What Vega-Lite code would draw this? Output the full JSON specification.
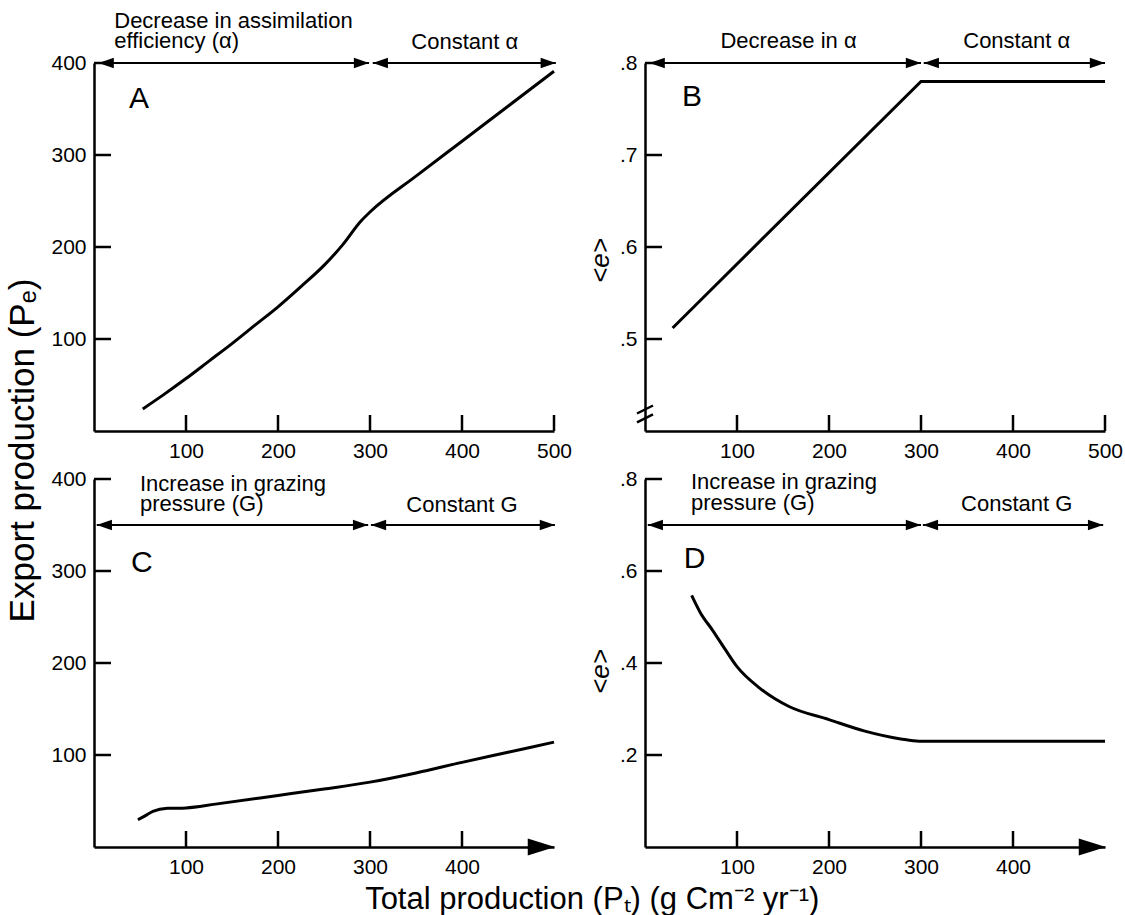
{
  "$schema": "https://vega.github.io/schema/vega-lite/v6.json",
  "padding": {"left": 5, "top": 10, "right": 0, "bottom": 0},
  "background": "white",
  "config": {
    "font": "Liberation Sans",
    "view": {"stroke": null},
    "axis": {"grid": false, "ticks": false, "domainColor": "black", "domainWidth": 2.5, "labelFontSize": 21, "labelColor": "black", "labelFont": "Liberation Sans", "labelFlush": false, "labelOverlap": false, "labelBound": false},
    "axisX": {"labelPadding": 9},
    "axisY": {"labelPadding": 8},
    "title": {"font": "Liberation Sans", "fontSize": 30, "fontWeight": "normal", "color": "black"}
  },
  "title": {"text": "Total production (Pₜ) (g Cm⁻² yr⁻¹)", "orient": "bottom", "anchor": "middle", "offset": 8, "fontSize": 31, "dx": 28},
  "vconcat": [
    {
      "title": {"text": "Export production (Pₑ)", "orient": "left", "anchor": "middle", "offset": 10, "fontSize": 35, "dx": -7},
      "columns": 2,
      "spacing": {"row": 48, "column": 91},
      "bounds": "flush",
      "concat": [
        {
          "width": 460, "height": 368,
          "layer": [
            {
              "data": {"values": [{"x":53,"y":24},{"x":75,"y":39},{"x":100,"y":57},{"x":125,"y":76},{"x":150,"y":95},{"x":175,"y":115},{"x":200,"y":135},{"x":225,"y":157},{"x":250,"y":180},{"x":270,"y":202},{"x":290,"y":228},{"x":300,"y":238},{"x":350,"y":277},{"x":400,"y":315},{"x":450,"y":353},{"x":500,"y":391}]},
              "mark": {"type": "line", "color": "black", "strokeWidth": 3, "interpolate": "monotone"},
              "encoding": {
                "x": {"field": "x", "type": "quantitative", "scale": {"domain": [0, 500], "nice": false, "zero": false}, "axis": {"values": [100, 200, 300, 400, 500], "title": null}},
                "y": {"field": "y", "type": "quantitative", "scale": {"domain": [0, 400], "nice": false}, "axis": {"values": [100, 200, 300, 400], "title": null}}
              }
            },
            {
              "data": {"values": [{"x":100,"x2":100,"y":0,"y2":17.4},{"x":200,"x2":200,"y":0,"y2":17.4},{"x":300,"x2":300,"y":0,"y2":17.4},{"x":400,"x2":400,"y":0,"y2":17.4},{"x":500,"x2":500,"y":0,"y2":17.4},{"x":0,"x2":18.5,"y":100,"y2":100},{"x":0,"x2":18.5,"y":200,"y2":200},{"x":0,"x2":18.5,"y":300,"y2":300},{"x":0,"x2":18.5,"y":400,"y2":400}]},
              "mark": {"type": "rule", "color": "black", "strokeWidth": 2.5},
              "encoding": {"x": {"field": "x", "type": "quantitative"}, "x2": {"field": "x2"}, "y": {"field": "y", "type": "quantitative"}, "y2": {"field": "y2"}}
            },
            {
              "data": {"values": [{"x":5,"x2":299,"y":400},{"x":303,"x2":502,"y":400}]},
              "mark": {"type": "rule", "color": "black", "strokeWidth": 2},
              "encoding": {"x": {"field": "x", "type": "quantitative"}, "x2": {"field": "x2"}, "y": {"field": "y", "type": "quantitative"}}
            },
            {
              "data": {"values": [{"x":5,"y":400,"dir":"L"},{"x":299,"y":400,"dir":"R"},{"x":303,"y":400,"dir":"L"},{"x":502,"y":400,"dir":"R"}]},
              "mark": {"type": "point", "filled": true, "color": "black", "opacity": 1, "size": 256},
              "encoding": {"x": {"field": "x", "type": "quantitative"}, "y": {"field": "y", "type": "quantitative"},
                "shape": {"field": "dir", "type": "nominal", "scale": {"domain": ["L","R","E"], "range": ["M0,0L1.9,-0.65L1.9,0.65Z","M0,0L-1.9,-0.65L-1.9,0.65Z","M0,0L-3.4,-1.06L-3.4,1.06Z"]}, "legend": null}}
            },
            {
              "data": {"values": [{"x":22,"y":438,"label":"Decrease in assimilation"},{"x":22,"y":416.5,"label":"efficiency (α)"}]},
              "mark": {"type": "text", "align": "left", "baseline": "alphabetic", "fontSize": 22, "color": "black"},
              "encoding": {"x": {"field": "x", "type": "quantitative"}, "y": {"field": "y", "type": "quantitative"}, "text": {"field": "label"}}
            },
            {
              "data": {"values": [{"x":403,"y":415,"label":"Constant α"}]},
              "mark": {"type": "text", "align": "center", "baseline": "alphabetic", "fontSize": 22, "color": "black"},
              "encoding": {"x": {"field": "x", "type": "quantitative"}, "y": {"field": "y", "type": "quantitative"}, "text": {"field": "label"}}
            },
            {
              "data": {"values": [{"x":49,"y":351,"label":"A"}]},
              "mark": {"type": "text", "align": "center", "baseline": "alphabetic", "fontSize": 30, "color": "black"},
              "encoding": {"x": {"field": "x", "type": "quantitative"}, "y": {"field": "y", "type": "quantitative"}, "text": {"field": "label"}}
            }
          ]
        },
        {
          "width": 460, "height": 368,
          "layer": [
            {
              "data": {"values": [{"x":30,"y":0.512},{"x":300,"y":0.78},{"x":500,"y":0.78}]},
              "mark": {"type": "line", "color": "black", "strokeWidth": 3},
              "encoding": {
                "x": {"field": "x", "type": "quantitative", "scale": {"domain": [0, 500], "nice": false, "zero": false}, "axis": {"values": [100, 200, 300, 400, 500], "title": null}},
                "y": {"field": "y", "type": "quantitative", "scale": {"domain": [0.4, 0.8], "nice": false, "zero": false}, "axis": {"values": [0.5, 0.6, 0.7, 0.8], "labelExpr": "slice(format(datum.value,'.1f'),1)", "title": "<e>", "titleFontSize": 26, "titleFontStyle": "italic", "titleFontWeight": "normal", "titleColor": "black", "titlePadding": 6, "titleY": 197}}
              }
            },
            {
              "data": {"values": [{"x":100,"x2":100,"y":0.4,"y2":0.4174},{"x":200,"x2":200,"y":0.4,"y2":0.4174},{"x":300,"x2":300,"y":0.4,"y2":0.4174},{"x":400,"x2":400,"y":0.4,"y2":0.4174},{"x":500,"x2":500,"y":0.4,"y2":0.4174},{"x":0,"x2":18.5,"y":0.5,"y2":0.5},{"x":0,"x2":18.5,"y":0.6,"y2":0.6},{"x":0,"x2":18.5,"y":0.7,"y2":0.7},{"x":0,"x2":18.5,"y":0.8,"y2":0.8}]},
              "mark": {"type": "rule", "color": "black", "strokeWidth": 2.5},
              "encoding": {"x": {"field": "x", "type": "quantitative"}, "x2": {"field": "x2"}, "y": {"field": "y", "type": "quantitative"}, "y2": {"field": "y2"}}
            },
            {
              "data": {"values": [{"x":5,"x2":300,"y":0.8},{"x":303,"x2":500,"y":0.8}]},
              "mark": {"type": "rule", "color": "black", "strokeWidth": 2},
              "encoding": {"x": {"field": "x", "type": "quantitative"}, "x2": {"field": "x2"}, "y": {"field": "y", "type": "quantitative"}}
            },
            {
              "data": {"values": [{"x":5,"y":0.8,"dir":"L"},{"x":300,"y":0.8,"dir":"R"},{"x":303,"y":0.8,"dir":"L"},{"x":500,"y":0.8,"dir":"R"}]},
              "mark": {"type": "point", "filled": true, "color": "black", "opacity": 1, "size": 256},
              "encoding": {"x": {"field": "x", "type": "quantitative"}, "y": {"field": "y", "type": "quantitative"},
                "shape": {"field": "dir", "type": "nominal", "scale": {"domain": ["L","R","E"], "range": ["M0,0L1.9,-0.65L1.9,0.65Z","M0,0L-1.9,-0.65L-1.9,0.65Z","M0,0L-3.4,-1.06L-3.4,1.06Z"]}, "legend": null}}
            },
            {
              "data": {"values": [{"x":0,"y":0.4185}]},
              "mark": {"type": "point", "filled": false, "color": "black", "opacity": 1, "strokeWidth": 2.5, "size": 256, "shape": "M-1,-0.06L1,-1.06M-1,1.06L1,0.06"},
              "encoding": {"x": {"field": "x", "type": "quantitative"}, "y": {"field": "y", "type": "quantitative"}}
            },
            {
              "data": {"values": [{"x":156,"y":0.8166,"label":"Decrease in α"},{"x":404,"y":0.8166,"label":"Constant α"}]},
              "mark": {"type": "text", "align": "center", "baseline": "alphabetic", "fontSize": 22, "color": "black"},
              "encoding": {"x": {"field": "x", "type": "quantitative"}, "y": {"field": "y", "type": "quantitative"}, "text": {"field": "label"}}
            },
            {
              "data": {"values": [{"x":51,"y":0.753,"label":"B"}]},
              "mark": {"type": "text", "align": "center", "baseline": "alphabetic", "fontSize": 30, "color": "black"},
              "encoding": {"x": {"field": "x", "type": "quantitative"}, "y": {"field": "y", "type": "quantitative"}, "text": {"field": "label"}}
            }
          ]
        },
        {
          "width": 460, "height": 368,
          "layer": [
            {
              "data": {"values": [{"x":47.7,"y":29.6},{"x":55,"y":33.5},{"x":64,"y":38.7},{"x":80,"y":42},{"x":100,"y":42.5},{"x":132,"y":46.6},{"x":200,"y":56},{"x":250,"y":63},{"x":300,"y":70.5},{"x":350,"y":80.5},{"x":400,"y":92},{"x":450,"y":103},{"x":500,"y":114}]},
              "mark": {"type": "line", "color": "black", "strokeWidth": 3, "interpolate": "monotone"},
              "encoding": {
                "x": {"field": "x", "type": "quantitative", "scale": {"domain": [0, 500], "nice": false, "zero": false}, "axis": {"values": [100, 200, 300, 400], "title": null}},
                "y": {"field": "y", "type": "quantitative", "scale": {"domain": [0, 400], "nice": false}, "axis": {"values": [100, 200, 300, 400], "title": null}}
              }
            },
            {
              "data": {"values": [{"x":100,"x2":100,"y":0,"y2":17.4},{"x":200,"x2":200,"y":0,"y2":17.4},{"x":300,"x2":300,"y":0,"y2":17.4},{"x":400,"x2":400,"y":0,"y2":17.4},{"x":0,"x2":18.5,"y":100,"y2":100},{"x":0,"x2":18.5,"y":200,"y2":200},{"x":0,"x2":18.5,"y":300,"y2":300},{"x":0,"x2":18.5,"y":400,"y2":400}]},
              "mark": {"type": "rule", "color": "black", "strokeWidth": 2.5},
              "encoding": {"x": {"field": "x", "type": "quantitative"}, "x2": {"field": "x2"}, "y": {"field": "y", "type": "quantitative"}, "y2": {"field": "y2"}}
            },
            {
              "data": {"values": [{"x":3,"x2":298,"y":350},{"x":301,"x2":501,"y":350}]},
              "mark": {"type": "rule", "color": "black", "strokeWidth": 2},
              "encoding": {"x": {"field": "x", "type": "quantitative"}, "x2": {"field": "x2"}, "y": {"field": "y", "type": "quantitative"}}
            },
            {
              "data": {"values": [{"x":3,"y":350,"dir":"L"},{"x":298,"y":350,"dir":"R"},{"x":301,"y":350,"dir":"L"},{"x":501,"y":350,"dir":"R"},{"x":501,"y":0,"dir":"E"}]},
              "mark": {"type": "point", "filled": true, "color": "black", "opacity": 1, "size": 256},
              "encoding": {"x": {"field": "x", "type": "quantitative"}, "y": {"field": "y", "type": "quantitative"},
                "shape": {"field": "dir", "type": "nominal", "scale": {"domain": ["L","R","E"], "range": ["M0,0L1.9,-0.65L1.9,0.65Z","M0,0L-1.9,-0.65L-1.9,0.65Z","M0,0L-3.4,-1.06L-3.4,1.06Z"]}, "legend": null}}
            },
            {
              "data": {"values": [{"x":50,"y":387,"label":"Increase in grazing"},{"x":50,"y":365,"label":"pressure (G)"}]},
              "mark": {"type": "text", "align": "left", "baseline": "alphabetic", "fontSize": 22, "color": "black"},
              "encoding": {"x": {"field": "x", "type": "quantitative"}, "y": {"field": "y", "type": "quantitative"}, "text": {"field": "label"}}
            },
            {
              "data": {"values": [{"x":400,"y":364.5,"label":"Constant G"}]},
              "mark": {"type": "text", "align": "center", "baseline": "alphabetic", "fontSize": 22, "color": "black"},
              "encoding": {"x": {"field": "x", "type": "quantitative"}, "y": {"field": "y", "type": "quantitative"}, "text": {"field": "label"}}
            },
            {
              "data": {"values": [{"x":52,"y":299,"label":"C"}]},
              "mark": {"type": "text", "align": "center", "baseline": "alphabetic", "fontSize": 30, "color": "black"},
              "encoding": {"x": {"field": "x", "type": "quantitative"}, "y": {"field": "y", "type": "quantitative"}, "text": {"field": "label"}}
            }
          ]
        },
        {
          "width": 460, "height": 368,
          "layer": [
            {
              "data": {"values": [{"x":50.7,"y":0.547},{"x":60,"y":0.51},{"x":73.5,"y":0.471},{"x":87,"y":0.43},{"x":100,"y":0.392},{"x":125,"y":0.345},{"x":156,"y":0.306},{"x":200,"y":0.277},{"x":239,"y":0.252},{"x":278,"y":0.235},{"x":298,"y":0.23},{"x":350,"y":0.23},{"x":500,"y":0.23}]},
              "mark": {"type": "line", "color": "black", "strokeWidth": 3, "interpolate": "monotone"},
              "encoding": {
                "x": {"field": "x", "type": "quantitative", "scale": {"domain": [0, 500], "nice": false, "zero": false}, "axis": {"values": [100, 200, 300, 400], "title": null}},
                "y": {"field": "y", "type": "quantitative", "scale": {"domain": [0, 0.8], "nice": false}, "axis": {"values": [0.2, 0.4, 0.6, 0.8], "labelExpr": "slice(format(datum.value,'.1f'),1)", "title": "<e>", "titleFontSize": 26, "titleFontStyle": "italic", "titleFontWeight": "normal", "titleColor": "black", "titlePadding": 6, "titleY": 192}}
              }
            },
            {
              "data": {"values": [{"x":100,"x2":100,"y":0,"y2":0.0348},{"x":200,"x2":200,"y":0,"y2":0.0348},{"x":300,"x2":300,"y":0,"y2":0.0348},{"x":400,"x2":400,"y":0,"y2":0.0348},{"x":0,"x2":18.5,"y":0.2,"y2":0.2},{"x":0,"x2":18.5,"y":0.4,"y2":0.4},{"x":0,"x2":18.5,"y":0.6,"y2":0.6},{"x":0,"x2":18.5,"y":0.8,"y2":0.8}]},
              "mark": {"type": "rule", "color": "black", "strokeWidth": 2.5},
              "encoding": {"x": {"field": "x", "type": "quantitative"}, "x2": {"field": "x2"}, "y": {"field": "y", "type": "quantitative"}, "y2": {"field": "y2"}}
            },
            {
              "data": {"values": [{"x":3,"x2":300,"y":0.7},{"x":302,"x2":498,"y":0.7}]},
              "mark": {"type": "rule", "color": "black", "strokeWidth": 2},
              "encoding": {"x": {"field": "x", "type": "quantitative"}, "x2": {"field": "x2"}, "y": {"field": "y", "type": "quantitative"}}
            },
            {
              "data": {"values": [{"x":3,"y":0.7,"dir":"L"},{"x":300,"y":0.7,"dir":"R"},{"x":302,"y":0.7,"dir":"L"},{"x":498,"y":0.7,"dir":"R"},{"x":501,"y":0,"dir":"E"}]},
              "mark": {"type": "point", "filled": true, "color": "black", "opacity": 1, "size": 256},
              "encoding": {"x": {"field": "x", "type": "quantitative"}, "y": {"field": "y", "type": "quantitative"},
                "shape": {"field": "dir", "type": "nominal", "scale": {"domain": ["L","R","E"], "range": ["M0,0L1.9,-0.65L1.9,0.65Z","M0,0L-1.9,-0.65L-1.9,0.65Z","M0,0L-3.4,-1.06L-3.4,1.06Z"]}, "legend": null}}
            },
            {
              "data": {"values": [{"x":50,"y":0.778,"label":"Increase in grazing"},{"x":50,"y":0.732,"label":"pressure (G)"}]},
              "mark": {"type": "text", "align": "left", "baseline": "alphabetic", "fontSize": 22, "color": "black"},
              "encoding": {"x": {"field": "x", "type": "quantitative"}, "y": {"field": "y", "type": "quantitative"}, "text": {"field": "label"}}
            },
            {
              "data": {"values": [{"x":404,"y":0.73,"label":"Constant G"}]},
              "mark": {"type": "text", "align": "center", "baseline": "alphabetic", "fontSize": 22, "color": "black"},
              "encoding": {"x": {"field": "x", "type": "quantitative"}, "y": {"field": "y", "type": "quantitative"}, "text": {"field": "label"}}
            },
            {
              "data": {"values": [{"x":54,"y":0.606,"label":"D"}]},
              "mark": {"type": "text", "align": "center", "baseline": "alphabetic", "fontSize": 30, "color": "black"},
              "encoding": {"x": {"field": "x", "type": "quantitative"}, "y": {"field": "y", "type": "quantitative"}, "text": {"field": "label"}}
            }
          ]
        }
      ]
    }
  ]
}
